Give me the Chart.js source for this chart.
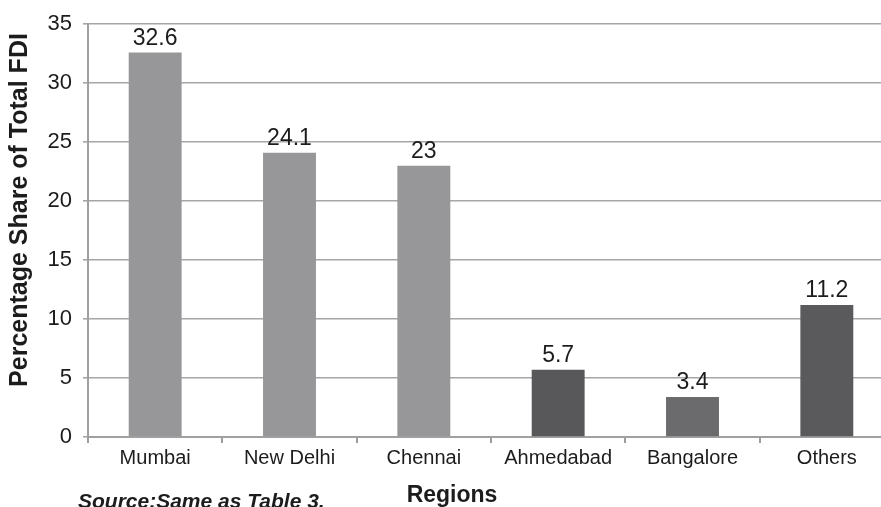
<!DOCTYPE html>
<html>
<head>
<meta charset="utf-8">
<script src="https://cdn.jsdelivr.net/npm/chart.js@4.4.1/dist/chart.umd.min.js"></script>
<style>
  html, body { margin: 0; padding: 0; background: #fff; overflow: hidden; width: 881px; height: 507px; }
  canvas { display: block; }
</style>
</head>
<body>
<canvas id="fdiChart" width="896" height="507"></canvas>
<script>
// Chart data
const regions = ["Mumbai", "New Delhi", "Chennai", "Ahmedabad", "Bangalore", "Others"];
const fdiShare = [32.6, 24.1, 23, 5.7, 3.4, 11.2];
const barColors = ["#979799", "#979799", "#979799", "#58585b", "#6b6b6e", "#5a5a5d"];
const yTicks = [0, 5, 10, 15, 20, 25, 30, 35];

const yTitle = "Percentage Share of Total FDI";
const xTitle = "Regions";
const sourceNote = "Source:Same as Table 3.";

// Value labels above the bars
const valueLabels = {
  id: "valueLabels",
  afterDatasetsDraw(chart) {
    const ctx = chart.ctx;
    const meta = chart.getDatasetMeta(0);
    ctx.save();
    ctx.font = "23px 'Liberation Sans', Arial, sans-serif";
    ctx.fillStyle = "#1c1c1c";
    ctx.textAlign = "center";
    ctx.textBaseline = "alphabetic";
    meta.data.forEach((bar, i) => {
      ctx.fillText(String(fdiShare[i]), bar.x, bar.y - 8);
    });
    ctx.restore();
  },
};

// Axis titles and source note
const extraText = {
  id: "extraText",
  afterDraw(chart) {
    const ctx = chart.ctx;
    ctx.save();
    ctx.fillStyle = "#1c1c1c";
    // y title
    ctx.font = "bold 25px 'Liberation Sans', Arial, sans-serif";
    ctx.textAlign = "center";
    ctx.textBaseline = "middle";
    ctx.translate(20, 210);
    ctx.rotate(-Math.PI / 2);
    ctx.fillText(yTitle, 0, 0);
    ctx.setTransform(1, 0, 0, 1, 0, 0);
    // x title
    ctx.font = "bold 23px 'Liberation Sans', Arial, sans-serif";
    ctx.textBaseline = "alphabetic";
    ctx.fillText(xTitle, 452, 502);
    // source note
    ctx.font = "italic bold 21px 'Liberation Sans', Arial, sans-serif";
    ctx.textAlign = "left";
    ctx.fillText(sourceNote, 78, 508);
    ctx.restore();
  },
};

const ctx = document.getElementById("fdiChart").getContext("2d");
new Chart(ctx, {
  type: "bar",
  data: {
    labels: regions,
    datasets: [
      {
        data: fdiShare,
        backgroundColor: barColors,
        borderWidth: 0,
        categoryPercentage: 1,
        barPercentage: 0.394,
      },
    ],
  },
  options: {
    responsive: false,
    animation: false,
    layout: {
      padding: { top: 21, right: 2, left: 0, bottom: 0 },
    },
    plugins: {
      legend: { display: false },
      tooltip: { enabled: false },
    },
    scales: {
      x: {
        offset: true,
        grid: {
          offset: true,
          drawOnChartArea: false,
          drawTicks: true,
          tickLength: 6,
          color: "#9d9d9d",
          lineWidth: 2,
        },
        border: { display: true, color: "#a0a0a0", width: 2 },
        ticks: {
          color: "#1c1c1c",
          padding: 3,
          maxRotation: 0,
          font: { family: "'Liberation Sans Narrow', 'Arial Narrow', 'Liberation Sans', Arial, sans-serif", size: 20 },
        },
        afterFit(scale) {
          scale.height = 70;
        },
      },
      y: {
        min: 0,
        max: 35,
        afterBuildTicks(scale) {
          scale.ticks = yTicks.map((v) => ({ value: v }));
        },
        grid: {
          color: "#a6a6a6",
          lineWidth: 1.6,
          drawTicks: true,
          tickLength: 5,
        },
        border: { display: true, color: "#a0a0a0", width: 2 },
        ticks: {
          color: "#1c1c1c",
          padding: 11,
          font: { family: "'Liberation Sans', Arial, sans-serif", size: 22 },
        },
        afterFit(scale) {
          scale.width = 88;
        },
      },
    },
  },
  plugins: [valueLabels, extraText],
});
</script>
</body>
</html>
